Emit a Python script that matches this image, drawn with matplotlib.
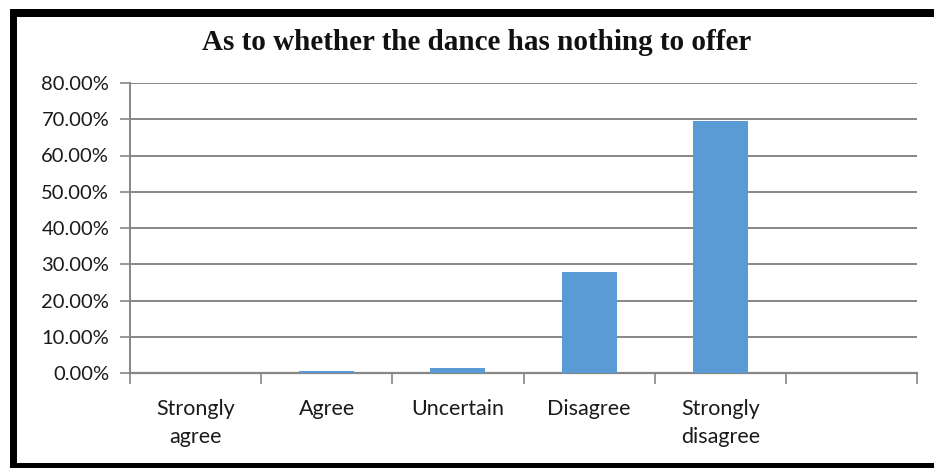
import matplotlib
matplotlib.use("Agg")
import matplotlib.pyplot as plt
from matplotlib.patches import Rectangle
from matplotlib.ticker import FixedLocator, FuncFormatter

title = "As to whether the dance has nothing to offer"
categories = ["Strongly\nagree", "Agree", "Uncertain", "Disagree", "Strongly\ndisagree", ""]
values = [0.0, 0.5, 1.4, 27.9, 69.4, None]
y_ticks = [0, 10, 20, 30, 40, 50, 60, 70, 80]

grid_gray = "#868686"
bar_blue = "#5B9BD5"

fig = plt.figure(figsize=(9.34, 4.68), dpi=100)
fig.patch.set_facecolor("white")
ax = fig.add_axes([130 / 934, 1 - 373 / 468, (917 - 130) / 934, (373 - 83) / 468])

xs = list(range(len(categories)))
bar_x = [x for x, v in zip(xs, values) if v is not None]
bar_h = [v for v in values if v is not None]
ax.bar(bar_x, bar_h, width=0.42, color=bar_blue, zorder=3)

ax.set_xlim(-0.5, len(categories) - 0.5)
ax.set_ylim(0, 80)

ax.set_yticks(y_ticks)
ax.yaxis.set_major_formatter(FuncFormatter(lambda v, p: f"{v:.2f}%"))
ax.yaxis.grid(True, color=grid_gray, linewidth=1.4, zorder=0)
ax.tick_params(axis="y", direction="out", length=7, width=1.2, color=grid_gray,
               labelsize=14.5, labelcolor="#1a1a1a", pad=8)

# category boundaries carry the tick marks, centres carry the labels
ax.xaxis.set_major_locator(FixedLocator([x - 0.5 for x in xs] + [xs[-1] + 0.5]))
ax.xaxis.set_major_formatter(FuncFormatter(lambda v, p: ""))
ax.xaxis.set_minor_locator(FixedLocator(xs))
ax.set_xticklabels(categories, minor=True)
ax.tick_params(axis="x", which="major", direction="out", length=8, width=1.2, color=grid_gray)
ax.tick_params(axis="x", which="minor", length=0, labelsize=15.5, labelcolor="#1a1a1a", pad=19)
for lbl in ax.get_xticklabels(minor=True):
    lbl.set_linespacing(1.45)

for side in ["top", "right"]:
    ax.spines[side].set_visible(False)
ax.spines["left"].set_color(grid_gray)
ax.spines["left"].set_linewidth(1.4)
ax.spines["bottom"].set_color(grid_gray)
ax.spines["bottom"].set_linewidth(1.6)
ax.set_axisbelow(True)

for lbl in ax.get_yticklabels() + ax.get_xticklabels(minor=True):
    lbl.set_fontfamily("Lato")

fig.text(477 / 934, 1 - 43 / 468, title, ha="center", va="center",
         fontsize=21, fontweight="bold", family="Liberation Serif", color="#111111")

# heavy black frame along top, left and bottom edges
W, H = 934, 468
frame = [
    (10, 9, W - 10, 8),
    (10, 9, 7, H - 9),
    (10, 463, W - 10, 5),
]
for x0, y0, w, h in frame:
    fig.add_artist(Rectangle((x0 / W, 1 - (y0 + h) / H), w / W, h / H,
                             transform=fig.transFigure, facecolor="black",
                             edgecolor="none", zorder=10))

fig.savefig("out.png", dpi=100, facecolor="white")
